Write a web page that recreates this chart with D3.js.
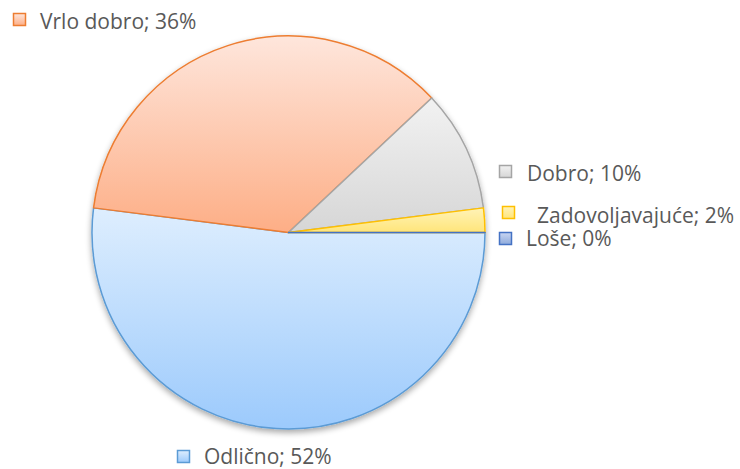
<!DOCTYPE html>
<html>
<head>
<meta charset="utf-8">
<script src="https://cdn.jsdelivr.net/npm/d3@7"></script>
<style>
  body { margin: 0; background: #fff; }
  svg { display: block; }
  text { font-family: "Open Sans", "Noto Sans", sans-serif; fill: #595959; }
</style>
</head>
<body>
<svg id="chart" width="740" height="469"></svg>
<script>
// data
const categories = ["Odlično", "Vrlo dobro", "Dobro", "Zadovoljavajuće", "Loše"];
const values = [52, 36, 10, 2, 0];

// styles
const strokeColors = ["#5b9bd5", "#ed7d31", "#a5a5a5", "#ffc000", "#4472c4"];
const gradTop = ["#deeefe", "#fee6dc", "#f2f2f2", "#fff3b8", "#c9d6f2"];
const gradBottom = ["#9ccafc", "#fdae86", "#d6d6d6", "#ffe57a", "#8eaadb"];

// label layout: marker top-left, text x, baseline
const labelPos = [
    {mx: 177, my: 450, tx: 204, ty: 464},
    {mx: 13, my: 13, tx: 40, ty: 29},
    {mx: 499, my: 165, tx: 527, ty: 181},
    {mx: 502, my: 206, tx: 537, ty: 223},
    {mx: 499, my: 232, tx: 526, ty: 246}
];

const cx = 288.5, cy = 232.5, radius = 196.5;

const svg = d3.select("#chart");
const defs = svg.append("defs");

// gradients for each slice (vertical)
categories.forEach((c, i) => {
    const g = defs.append("linearGradient")
        .attr("id", "grad" + i)
        .attr("x1", 0).attr("y1", 0).attr("x2", 0).attr("y2", 1);
    g.append("stop").attr("offset", "0%").attr("stop-color", gradTop[i]);
    g.append("stop").attr("offset", "100%").attr("stop-color", gradBottom[i]);
});

const shadow = defs.append("filter")
    .attr("id", "shadow")
    .attr("x", "-20%").attr("y", "-20%").attr("width", "140%").attr("height", "140%");
shadow.append("feGaussianBlur").attr("in", "SourceAlpha").attr("stdDeviation", 3);
shadow.append("feOffset").attr("dx", 0).attr("dy", 3).attr("result", "blur");
shadow.append("feComponentTransfer").append("feFuncA").attr("type", "linear").attr("slope", 0.35);
const merge = shadow.append("feMerge");
merge.append("feMergeNode");
merge.append("feMergeNode").attr("in", "SourceGraphic");

// start at 3 o'clock, go clockwise
const pie = d3.pie()
    .sort(null)
    .startAngle(Math.PI / 2)
    .endAngle(Math.PI / 2 + 2 * Math.PI);

const arc = d3.arc().innerRadius(0).outerRadius(radius);

const arcs = pie(values).map((a, i) => ({...a, i}));

const pieG = svg.append("g")
    .attr("transform", `translate(${cx},${cy})`)
    .attr("filter", "url(#shadow)");

pieG.selectAll(".slice")
    .data(arcs)
    .join("path")
    .attr("class", "slice")
    .attr("d", arc)
    .attr("fill", d => `url(#grad${d.i})`)
    .attr("stroke", d => strokeColors[d.i])
    .attr("stroke-width", 1.5)
    .attr("stroke-linejoin", "round");

// labels
const labels = svg.selectAll(".label")
    .data(categories.map((c, i) => ({c, v: values[i], i})))
    .join("g")
    .attr("class", "label");

labels.append("rect")
    .attr("x", d => labelPos[d.i].mx + 0.5)
    .attr("y", d => labelPos[d.i].my + 0.5)
    .attr("width", 12)
    .attr("height", 12)
    .attr("fill", d => `url(#grad${d.i})`)
    .attr("stroke", d => strokeColors[d.i])
    .attr("stroke-width", 1.5);

labels.append("text")
    .attr("x", d => labelPos[d.i].tx)
    .attr("y", d => labelPos[d.i].ty)
    .attr("font-size", 21)
    .text(d => `${d.c}; ${d.v}%`);
</script>
</body>
</html>
